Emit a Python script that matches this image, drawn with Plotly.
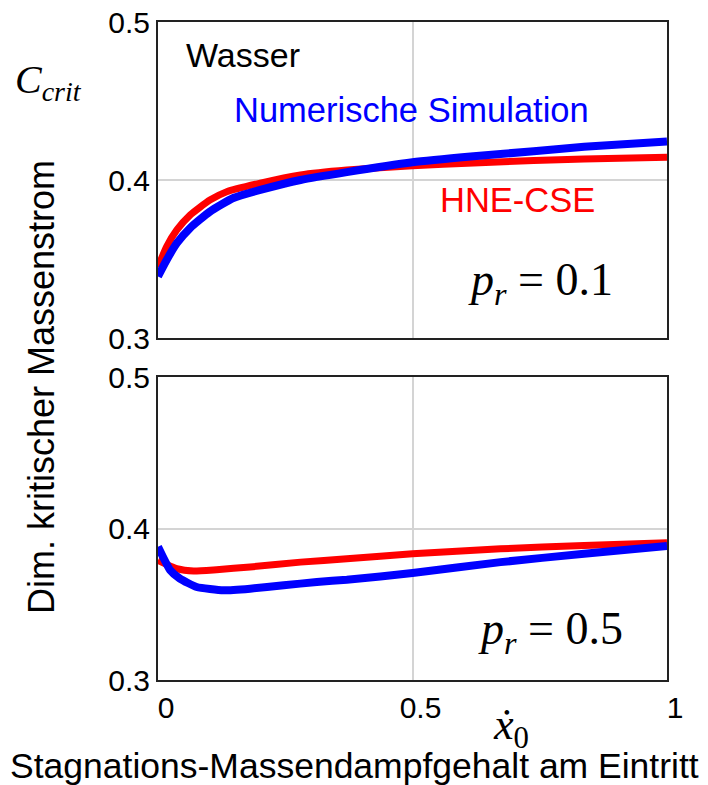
import plotly.graph_objects as go
from plotly.subplots import make_subplots

W, H = 708, 785

# p_r = 0.1 (upper panel)
x_num_01 = [0, 0.017, 0.037, 0.063, 0.102, 0.148, 0.201, 0.28, 0.371, 0.5, 0.62, 0.738, 0.837, 1.0]
c_num_01 = [0.339, 0.3494, 0.360, 0.3696, 0.380, 0.3886, 0.3937, 0.400, 0.4050, 0.4112, 0.4150, 0.4182, 0.4210, 0.4243]
x_hne_01 = [0, 0.017, 0.037, 0.063, 0.102, 0.135, 0.201, 0.28, 0.371, 0.5, 0.62, 0.738, 0.837, 1.0]
c_hne_01 = [0.345, 0.3578, 0.3684, 0.3778, 0.3873, 0.3926, 0.398, 0.4032, 0.4063, 0.4090, 0.4108, 0.4123, 0.4133, 0.4144]

# p_r = 0.5 (lower panel)
x_num_05 = [0, 0.024, 0.043, 0.076, 0.129, 0.181, 0.247, 0.312, 0.371, 0.5, 0.673, 0.837, 1.0]
c_num_05 = [0.388, 0.3724, 0.3669, 0.3614, 0.3592, 0.3603, 0.3625, 0.3647, 0.3662, 0.3706, 0.3778, 0.3833, 0.3884]
x_hne_05 = [0, 0.037, 0.07, 0.115, 0.181, 0.28, 0.371, 0.5, 0.673, 0.837, 1.0]
c_hne_05 = [0.379, 0.3735, 0.3719, 0.3728, 0.3746, 0.3778, 0.380, 0.3833, 0.3866, 0.3888, 0.3906]

y_ticks = [0.3, 0.4, 0.5]
y_ticktext = ["0.3", "0.4", "0.5"]
x_ticks = [0, 0.5, 1]
x_ticktext = ["0", "0.5", "1"]

RED = "#ff0000"
BLUE = "#0000ff"
SANS = "Liberation Sans, Arial, sans-serif"
SERIF = "Liberation Serif, Times New Roman, DejaVu Serif, serif"


def px_x(p):
    return p / W


def px_y(p):
    return 1 - p / H


fig = make_subplots(rows=2, cols=1)

panels = [
    (1, x_hne_01, c_hne_01, x_num_01, c_num_01),
    (2, x_hne_05, c_hne_05, x_num_05, c_num_05),
]
for row, xh, ch, xn, cn in panels:
    fig.add_trace(go.Scatter(x=xh, y=ch, mode="lines", name="HNE-CSE",
                             line=dict(color=RED, width=7, shape="spline", smoothing=0.5)),
                  row=row, col=1)
    fig.add_trace(go.Scatter(x=xn, y=cn, mode="lines", name="Numerische Simulation",
                             line=dict(color=BLUE, width=8, shape="spline", smoothing=0.5)),
                  row=row, col=1)

axis_common = dict(
    showline=True, mirror=True, linecolor="#222", linewidth=2,
    showgrid=True, gridcolor="#d4d4d4", gridwidth=1.5,
    zeroline=False, ticks="", automargin=False,
    tickfont=dict(family=SANS, size=30, color="black"),
)

fig.update_xaxes(range=[0, 1], tickvals=x_ticks, ticktext=x_ticktext,
                 ticklabelshift=8,
                 domain=[px_x(158), px_x(667)], **axis_common)
fig.update_xaxes(showticklabels=False, row=1, col=1)
fig.update_yaxes(tickvals=y_ticks, ticktext=y_ticktext, **axis_common)
fig.update_yaxes(range=[0.3, 0.5], domain=[px_y(338), px_y(22)], row=1, col=1)
fig.update_yaxes(range=[0.3, 0.5], domain=[px_y(680), px_y(377)], row=2, col=1)

annotations = [
    dict(text="Wasser", x=px_x(243), y=px_y(55), font=dict(family=SANS, size=34, color="black")),
    dict(text="Numerische Simulation", x=px_x(411), y=px_y(110), font=dict(family=SANS, size=34.5, color=BLUE)),
    dict(text="HNE-CSE", x=px_x(517), y=px_y(200), font=dict(family=SANS, size=34.5, color=RED)),
    dict(text="<i>p</i><sub><i>r</i></sub> = 0.1", x=px_x(540), y=px_y(283), font=dict(family=SERIF, size=46, color="black")),
    dict(text="<i>p</i><sub><i>r</i></sub> = 0.5", x=px_x(550), y=px_y(632), font=dict(family=SERIF, size=46, color="black")),
    dict(text="<i>C</i><sub><i>crit</i></sub>", x=px_x(48), y=px_y(82), font=dict(family=SERIF, size=40, color="black")),
    dict(text="<i>ẋ</i><sub>0</sub>", x=px_x(511), y=px_y(727), font=dict(family=SERIF, size=44, color="black")),
    dict(text="Stagnations-Massendampfgehalt am Eintritt", x=px_x(355), y=px_y(766),
         font=dict(family=SANS, size=35.5, color="black")),
    dict(text="Dim. kritischer Massenstrom", x=px_x(41), y=px_y(387), textangle=-90,
         font=dict(family=SANS, size=36, color="black")),
]
for a in annotations:
    fig.add_annotation(xref="paper", yref="paper", showarrow=False,
                       xanchor="center", yanchor="middle", **a)

fig.update_layout(
    width=W, height=H,
    margin=dict(l=0, r=0, t=0, b=0),
    paper_bgcolor="white", plot_bgcolor="white",
    showlegend=False,
)

fig.write_html("out.html")
